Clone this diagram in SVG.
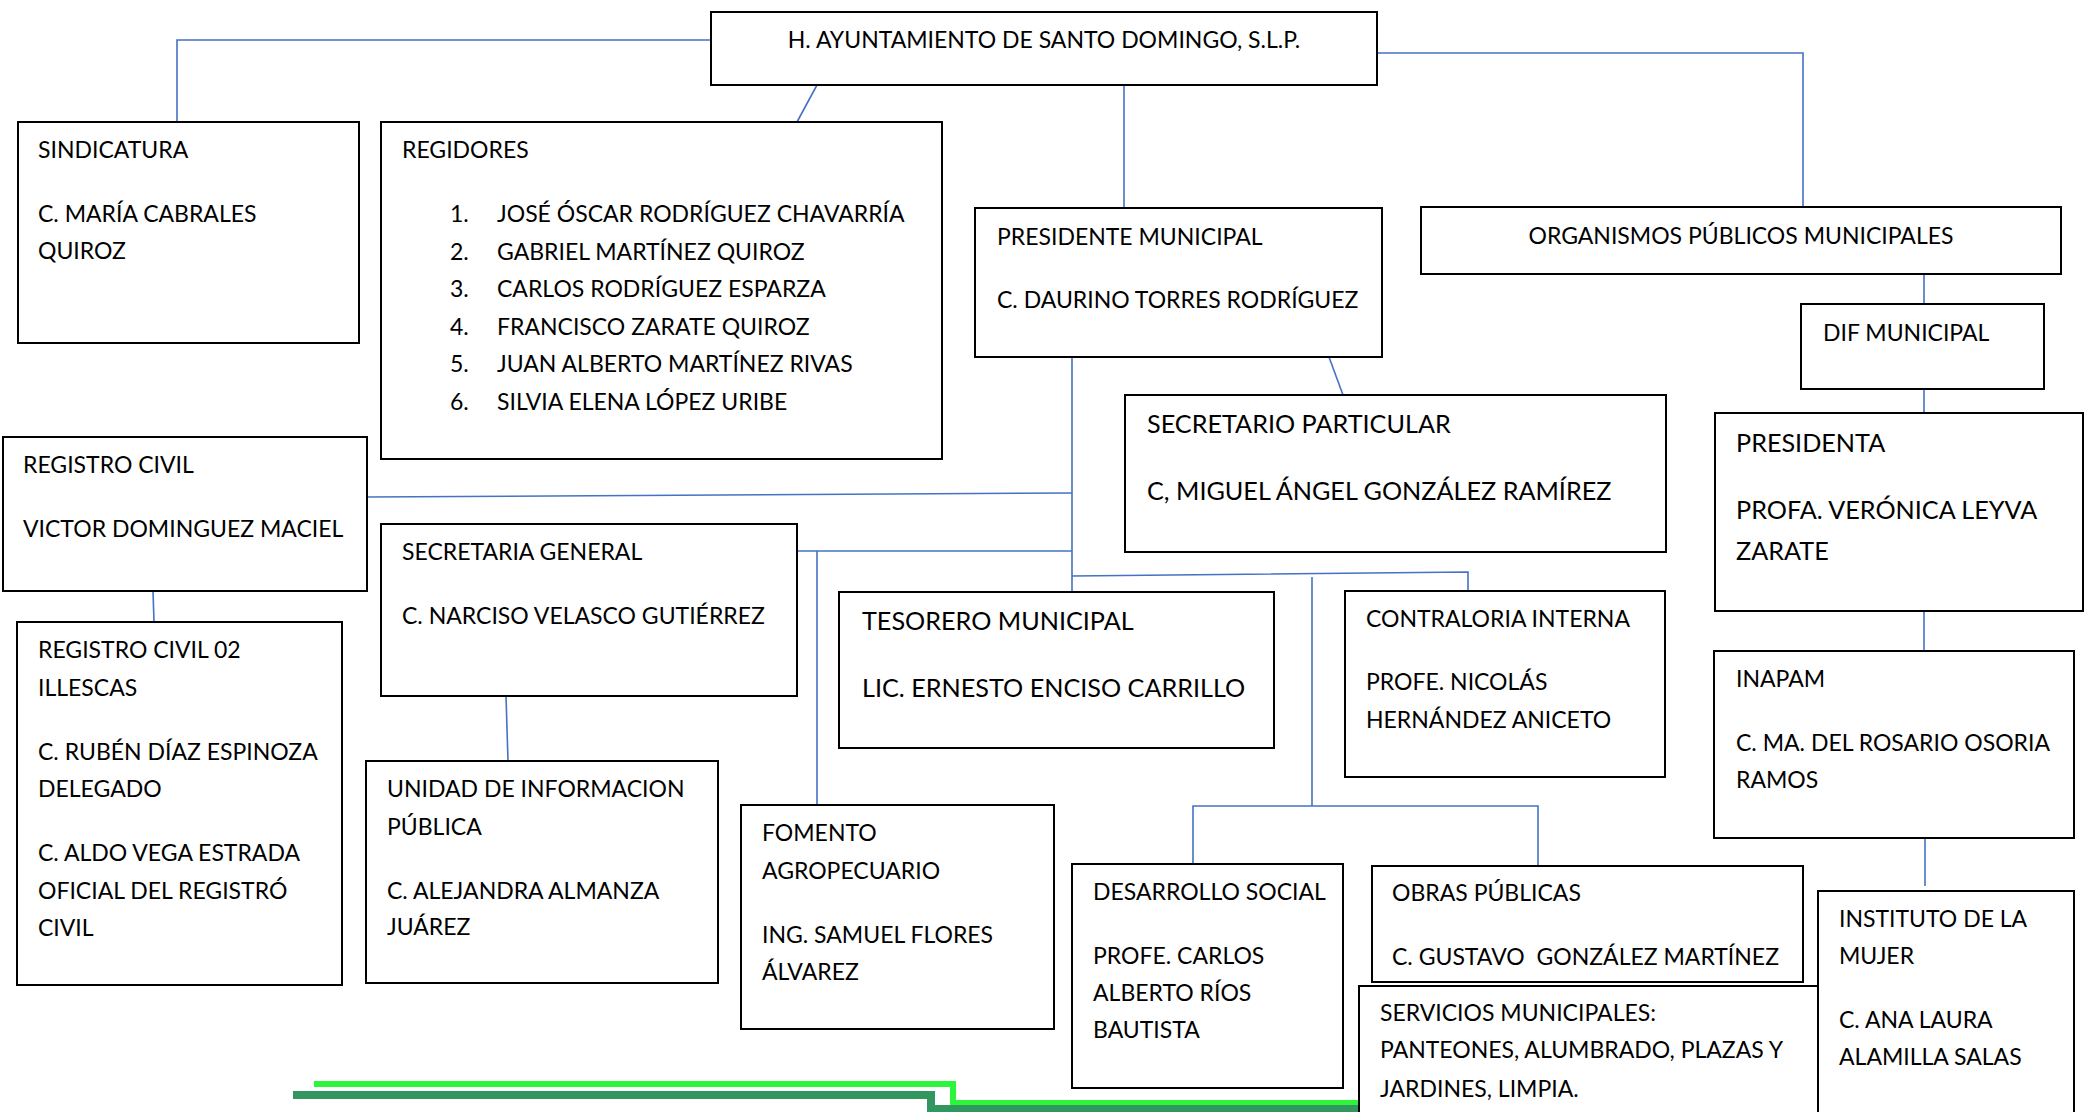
<svg xmlns="http://www.w3.org/2000/svg" width="2084" height="1112" viewBox="0 0 2084 1112">
<style>
.box{fill:#fff;stroke:#000;stroke-width:2}
.c{fill:none;stroke:#4472C4;stroke-width:1.6}
text{font-family:Lato,"Noto Sans",sans-serif;font-size:23px;fill:#000}
.big{font-size:25.2px}
.mid{text-anchor:middle}
</style>
<rect width="2084" height="1112" fill="#fff"/>
<g id="connectors">
<polyline class="c" points="711,40 177,40 177,122"/>
<line class="c" x1="817" y1="85" x2="797" y2="122"/>
<line class="c" x1="1124" y1="85" x2="1124" y2="208"/>
<polyline class="c" points="1377,53 1803,53 1803,207"/>
<line class="c" x1="1924" y1="274" x2="1924" y2="304"/>
<line class="c" x1="1924" y1="389" x2="1924" y2="413"/>
<line class="c" x1="1924" y1="611" x2="1924" y2="651"/>
<line class="c" x1="1925" y1="838" x2="1925" y2="886"/>
<line class="c" x1="1329" y1="357" x2="1343" y2="395"/>
<line class="c" x1="1072" y1="357" x2="1072" y2="592"/>
<line class="c" x1="367" y1="497" x2="1072" y2="493"/>
<line class="c" x1="797" y1="551" x2="1072" y2="551"/>
<line class="c" x1="817" y1="551" x2="817" y2="805"/>
<polyline class="c" points="1072,576 1468,572 1468,591"/>
<line class="c" x1="1312" y1="577" x2="1312" y2="806"/>
<polyline class="c" points="1193,864 1193,806 1538,806 1538,866"/>
<line class="c" x1="153" y1="591" x2="154" y2="622"/>
<line class="c" x1="506" y1="696" x2="508" y2="761"/>
</g>
<g id="decor">
<polyline points="314,1084 953,1084 953,1103 1362,1103" fill="none" stroke="#2CF53C" stroke-width="6"/>
<polyline points="293,1095 931,1095 931,1109 1362,1109" fill="none" stroke="#31975F" stroke-width="8"/>
</g>
<g id="ayuntamiento"><rect class="box" x="711" y="12" width="666" height="73"/><text class="mid" x="1044" y="48">H. AYUNTAMIENTO DE SANTO DOMINGO, S.L.P.</text></g>
<g id="sindicatura"><rect class="box" x="18" y="122" width="341" height="221"/><text x="38" y="158">SINDICATURA</text><text x="38" y="222">C. MARÍA CABRALES</text><text x="38" y="259">QUIROZ</text></g>
<g id="regidores"><rect class="box" x="381" y="122" width="561" height="337"/><text x="402" y="158">REGIDORES</text>
<text x="450" y="222">1.</text><text x="497" y="222">JOSÉ ÓSCAR RODRÍGUEZ CHAVARRÍA</text>
<text x="450" y="259.5">2.</text><text x="497" y="259.5">GABRIEL MARTÍNEZ QUIROZ</text>
<text x="450" y="297">3.</text><text x="497" y="297">CARLOS RODRÍGUEZ ESPARZA</text>
<text x="450" y="334.5">4.</text><text x="497" y="334.5">FRANCISCO ZARATE QUIROZ</text>
<text x="450" y="372">5.</text><text x="497" y="372">JUAN ALBERTO MARTÍNEZ RIVAS</text>
<text x="450" y="409.5">6.</text><text x="497" y="409.5">SILVIA ELENA LÓPEZ URIBE</text></g>
<g id="presidente"><rect class="box" x="975" y="208" width="407" height="149"/><text x="997" y="245">PRESIDENTE MUNICIPAL</text><text x="997" y="308">C. DAURINO TORRES RODRÍGUEZ</text></g>
<g id="organismos"><rect class="box" x="1421" y="207" width="640" height="67"/><text class="mid" x="1741" y="244">ORGANISMOS PÚBLICOS MUNICIPALES</text></g>
<g id="dif"><rect class="box" x="1801" y="304" width="243" height="85"/><text x="1823" y="341">DIF MUNICIPAL</text></g>
<g id="presidenta"><rect class="box" x="1715" y="413" width="368" height="198"/><text class="big" x="1736" y="452">PRESIDENTA</text><text class="big" x="1736" y="519">PROFA. VERÓNICA LEYVA</text><text class="big" x="1736" y="560">ZARATE</text></g>
<g id="secretario-particular"><rect class="box" x="1125" y="395" width="541" height="157"/><text class="big" x="1147" y="433">SECRETARIO PARTICULAR</text><text class="big" x="1147" y="500">C, MIGUEL ÁNGEL GONZÁLEZ RAMÍREZ</text></g>
<g id="registro-civil"><rect class="box" x="3" y="437" width="364" height="154"/><text x="23" y="473">REGISTRO CIVIL</text><text x="23" y="537">VICTOR DOMINGUEZ MACIEL</text></g>
<g id="secretaria-general"><rect class="box" x="381" y="524" width="416" height="172"/><text x="402" y="560">SECRETARIA GENERAL</text><text x="402" y="624">C. NARCISO VELASCO GUTIÉRREZ</text></g>
<g id="tesorero"><rect class="box" x="839" y="592" width="435" height="156"/><text class="big" x="862" y="630">TESORERO MUNICIPAL</text><text class="big" x="862" y="697">LIC. ERNESTO ENCISO CARRILLO</text></g>
<g id="contraloria"><rect class="box" x="1345" y="591" width="320" height="186"/><text x="1366" y="627">CONTRALORIA INTERNA</text><text x="1366" y="690">PROFE. NICOLÁS</text><text x="1366" y="728">HERNÁNDEZ ANICETO</text></g>
<g id="inapam"><rect class="box" x="1714" y="651" width="360" height="187"/><text x="1736" y="687">INAPAM</text><text x="1736" y="751">C. MA. DEL ROSARIO OSORIA</text><text x="1736" y="788">RAMOS</text></g>
<g id="registro-civil-02"><rect class="box" x="17" y="622" width="325" height="363"/><text x="38" y="658">REGISTRO CIVIL 02</text><text x="38" y="696">ILLESCAS</text><text x="38" y="760">C. RUBÉN DÍAZ ESPINOZA</text><text x="38" y="797">DELEGADO</text><text x="38" y="861">C. ALDO VEGA ESTRADA</text><text x="38" y="899">OFICIAL DEL REGISTRÓ</text><text x="38" y="936">CIVIL</text></g>
<g id="unidad-informacion"><rect class="box" x="366" y="761" width="352" height="222"/><text x="387" y="797">UNIDAD DE INFORMACION</text><text x="387" y="835">PÚBLICA</text><text x="387" y="899">C. ALEJANDRA ALMANZA</text><text x="387" y="935">JUÁREZ</text></g>
<g id="fomento"><rect class="box" x="741" y="805" width="313" height="224"/><text x="762" y="841">FOMENTO</text><text x="762" y="879">AGROPECUARIO</text><text x="762" y="943">ING. SAMUEL FLORES</text><text x="762" y="980">ÁLVAREZ</text></g>
<g id="desarrollo-social"><rect class="box" x="1072" y="864" width="271" height="224"/><text x="1093" y="900">DESARROLLO SOCIAL</text><text x="1093" y="964">PROFE. CARLOS</text><text x="1093" y="1001">ALBERTO RÍOS</text><text x="1093" y="1038">BAUTISTA</text></g>
<g id="obras-publicas"><rect class="box" x="1372" y="866" width="431" height="116"/><text x="1392" y="901">OBRAS PÚBLICAS</text><text x="1392" y="965" xml:space="preserve">C. GUSTAVO  GONZÁLEZ MARTÍNEZ</text></g>
<g id="servicios"><rect class="box" x="1359" y="986" width="459" height="140"/><text x="1380" y="1021">SERVICIOS MUNICIPALES:</text><text x="1380" y="1058">PANTEONES, ALUMBRADO, PLAZAS Y</text><text x="1380" y="1097">JARDINES, LIMPIA.</text></g>
<g id="instituto-mujer"><rect class="box" x="1818" y="891" width="256" height="235"/><text x="1839" y="927">INSTITUTO DE LA</text><text x="1839" y="964">MUJER</text><text x="1839" y="1028">C. ANA LAURA</text><text x="1839" y="1065">ALAMILLA SALAS</text></g>
</svg>
